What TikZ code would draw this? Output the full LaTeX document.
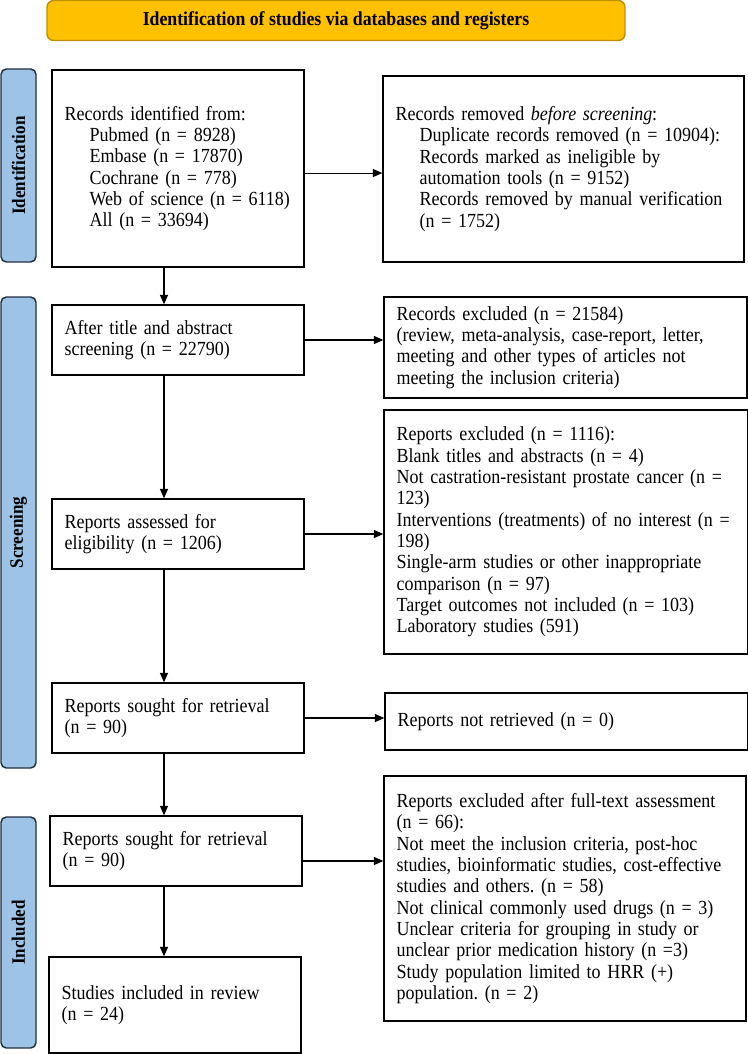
\documentclass[tikz,border=0pt]{standalone}
\usepackage{fontspec}
\setmainfont{Liberation Serif}[FakeStretch=0.9]
\usetikzlibrary{arrows.meta}
\definecolor{gold}{HTML}{FFC000}
\definecolor{goldline}{HTML}{BF9000}
\definecolor{sideblue}{HTML}{9DC3E6}
\definecolor{sideline}{HTML}{22303F}
\frenchspacing
\begin{document}
\begin{tikzpicture}[x=0.75pt,y=-0.75pt,
  box/.style={draw=black,line width=1.1pt,align=left,inner xsep=9.5pt,inner ysep=0pt,
    font=\fontsize{15pt}{16pt}\selectfont\frenchspacing,anchor=center},
  side/.style={draw=sideline,fill=sideblue,line width=1.1pt,rounded corners=4pt,rotate=90,
    minimum height=26.25pt,inner sep=0pt,font=\fontsize{14.2pt}{15pt}\selectfont\bfseries},
  arr/.style={line width=0.8pt,-{Triangle[length=7pt,width=6pt]}}]
\useasboundingbox (0,0) rectangle (748,1054);

% title
\node[draw=goldline,fill=gold,line width=1.1pt,rounded corners=5pt,minimum width=433.5pt,
  minimum height=30pt,inner sep=0pt,font=\fontsize{14.8pt}{15pt}\selectfont\bfseries]
  (title) at (336,20.5) {Identification of studies via databases and registers};

% side labels
\node[side,minimum width=144.75pt] (sid) at (18.5,165.5) {Identification};
\node[side,minimum width=353.25pt] (ssc) at (18.5,532.5) {Screening};
\node[side,minimum width=173.25pt] (sin) at (18.5,932.5) {Included};

% left column
\node[box,text width=170pt,minimum height=147.75pt] (b1) at (178,168.5)
  {Records identified from:\\
   \hspace*{18.75pt}Pubmed (n = 8928)\\
   \hspace*{18.75pt}Embase (n = 17870)\\
   \hspace*{18.75pt}Cochrane (n = 778)\\
   \hspace*{18.75pt}Web of science (n = 6118)\\
   \hspace*{18.75pt}All (n = 33694)};
\node[box,text width=170pt,minimum height=52.5pt] (b2) at (178,340)
  {After title and abstract\\ screening (n = 22790)};
\node[box,text width=170pt,minimum height=52.5pt] (b3) at (178,534)
  {Reports assessed for\\ eligibility (n = 1206)};
\node[box,text width=170pt,minimum height=52.5pt] (b4) at (178,718)
  {Reports sought for retrieval\\ (n = 90)};
\node[box,text width=170pt,minimum height=52.5pt] (b5) at (176,851)
  {Reports sought for retrieval\\ (n = 90)};
\node[box,text width=170pt,minimum height=72pt] (b6) at (175,1005)
  {Studies included in review\\ (n = 24)};

% right column
\node[box,text width=251.75pt,minimum height=139.5pt] (r1) at (563.5,169)
  {Records removed \textit{before screening}:\\
   \hspace*{18pt}Duplicate records removed (n = 10904):\\
   \hspace*{18pt}Records marked as ineligible by\\
   \hspace*{18pt}automation tools (n = 9152)\\
   \hspace*{18pt}Records removed by manual verification\\
   \hspace*{18pt}(n = 1752)};
\node[box,text width=253.25pt,minimum height=75.75pt] (r2) at (565.5,347.5)
  {Records excluded (n = 21584)\\
   (review, meta-analysis, case-report, letter,\\
   meeting and other types of articles not\\
   meeting the inclusion criteria)};
\node[box,text width=254pt,minimum height=183pt] (r3) at (566,532)
  {Reports excluded (n = 1116):\\
   Blank titles and abstracts (n = 4)\\
   Not castration-resistant prostate cancer (n =\\
   123)\\
   Interventions (treatments) of no interest (n =\\
   198)\\
   Single-arm studies or other inappropriate\\
   comparison (n = 97)\\
   Target outcomes not included (n = 103)\\
   Laboratory studies (591)};
\node[box,text width=253.25pt,minimum height=42.75pt] (r4) at (566.5,721.5)
  {Reports not retrieved (n = 0)};
\node[box,text width=252.5pt,minimum height=183.75pt] (r5) at (565,898.5)
  {Reports excluded after full-text assessment\\
   (n = 66):\\
   Not meet the inclusion criteria, post-hoc\\
   studies, bioinformatic studies, cost-effective\\
   studies and others. (n = 58)\\
   Not clinical commonly used drugs (n = 3)\\
   Unclear criteria for grouping in study or\\
   unclear prior medication history (n =3)\\
   Study population limited to HRR (+)\\
   population. (n = 2)};

% vertical connectors
\coordinate (ax) at (164,0);
\draw[arr] (b1.south -| ax) -- (b2.north -| ax);
\draw[arr] (b2.south -| ax) -- (b3.north -| ax);
\draw[arr] (b3.south -| ax) -- (b4.north -| ax);
\draw[arr] (b4.south -| ax) -- (b5.north -| ax);
\draw[arr] (b5.south -| ax) -- (b6.north -| ax);

% horizontal connectors
\draw[arr] ([yshift=-3.4pt]b1.east) -- ([yshift=-3.4pt]b1.east -| r1.west);
\draw[arr] (b2.east) -- (b2.east -| r2.west);
\draw[arr] (b3.east) -- (b3.east -| r3.west);
\draw[arr] (b4.east) -- (b4.east -| r4.west);
\draw[arr] ([yshift=-7.5pt]b5.east) -- ([yshift=-7.5pt]b5.east -| r5.west);
\end{tikzpicture}
\end{document}
